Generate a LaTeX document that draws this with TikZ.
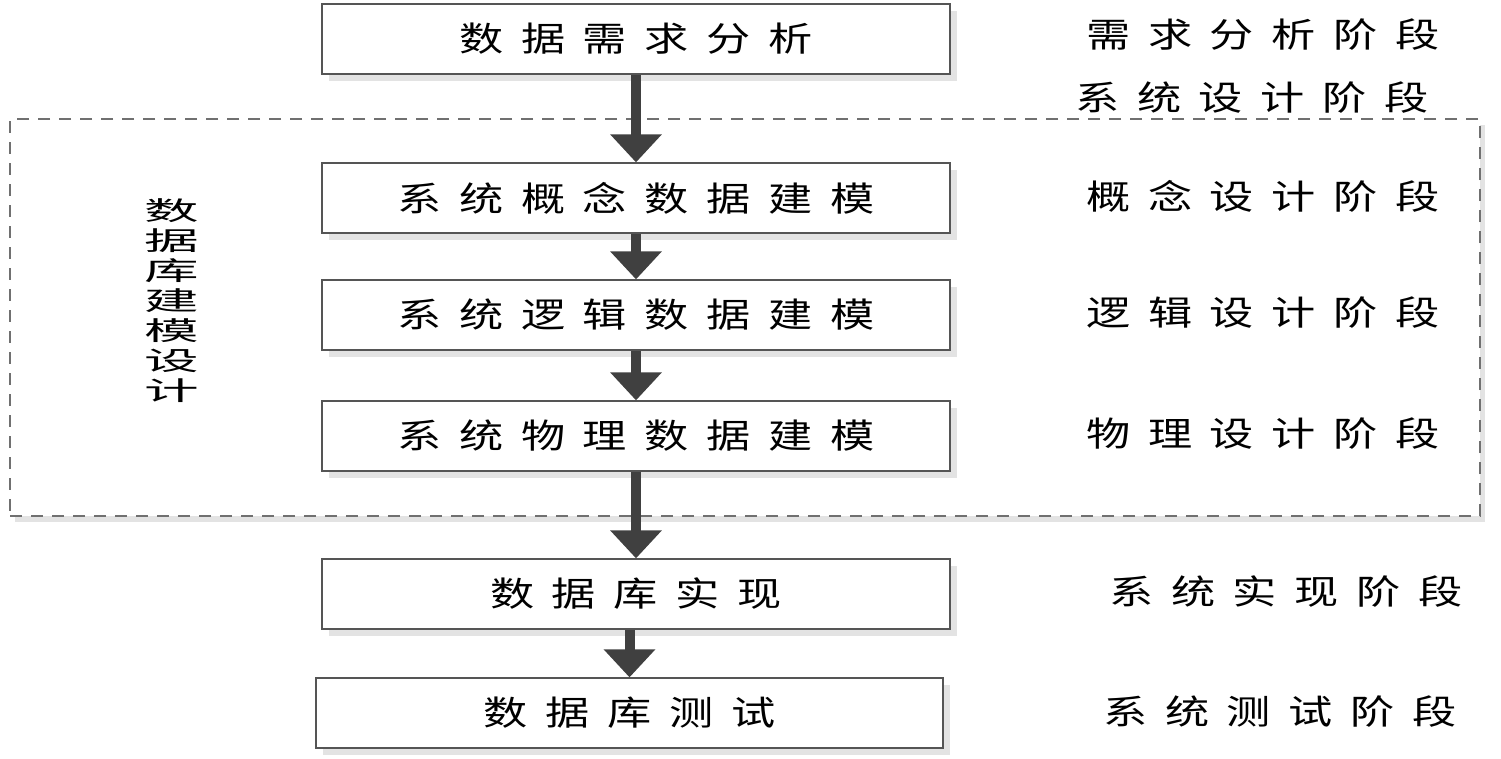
\documentclass[tikz,border=0pt]{standalone}
\usepackage{fontspec}
\usetikzlibrary{arrows.meta,shadows}
\newfontfamily\cjkmain[FakeStretch=1.3,LetterSpace=52]{Noto Sans CJK SC}
\newfontfamily\cjkside[FakeStretch=2.1]{Noto Sans CJK SC}
\definecolor{edgec}{HTML}{555555}
\definecolor{shadec}{HTML}{E3E3E3}
\definecolor{arrowc}{HTML}{404040}
\definecolor{dashc}{HTML}{707070}
\tikzset{
  stepbox/.style={draw=edgec, line width=1.3pt, fill=white, minimum width=628pt, minimum height=70pt, inner sep=0pt,
    font=\cjkmain\fontsize{34}{38}\selectfont,
    drop shadow={shadow xshift=7pt, shadow yshift=-7pt, fill=shadec, opacity=1}},
  phase/.style={font=\cjkmain\fontsize{34}{38}\selectfont, inner sep=0pt},
  flowarrow/.style={draw=arrowc, line width=10pt, -{Triangle[width=50pt,length=28pt,fill=arrowc]}},
  region/.style={draw=dashc, line width=1.3pt, dash pattern=on 12pt off 9pt, fill=white, inner sep=0pt,
    drop shadow={shadow xshift=5pt, shadow yshift=-6pt, fill=shadec, opacity=1}}
}
\begin{document}
\begin{tikzpicture}[x=1pt,y=-1pt]
\useasboundingbox (0,0) rectangle (1501,758);
\node[region, minimum width=1470pt, minimum height=397pt] (reg) at (745,317.5) {};
\node[stepbox] (b1) at (636,39) {数据需求分析};
\node[stepbox] (b2) at (636,198) {系统概念数据建模};
\node[stepbox] (b3) at (636,315) {系统逻辑数据建模};
\node[stepbox] (b4) at (636,436) {系统物理数据建模};
\node[stepbox] (b5) at (636,594) {数据库实现};
\node[stepbox, minimum width=627pt] (b6) at (629.5,713) {数据库测试};
\node[font=\cjkside\fontsize{26}{30}\selectfont, align=center, inner sep=0pt] (side) at (172,301) {数\\据\\库\\建\\模\\设\\计};
\node[phase] (p1) at (1263,35) {需求分析阶段};
\node[phase] (p2) at (1252,98) {系统设计阶段};
\node[phase] (p3) at (1263,196) {概念设计阶段};
\node[phase] (p4) at (1263,313) {逻辑设计阶段};
\node[phase] (p5) at (1263,434) {物理设计阶段};
\node[phase] (p6) at (1286,592) {系统实现阶段};
\node[phase] (p7) at (1280,712) {系统测试阶段};
\draw[flowarrow] (b1.south) -- (b2.north);
\draw[flowarrow] (b2.south) -- (b3.north);
\draw[flowarrow] (b3.south) -- (b4.north);
\draw[flowarrow] (b4.south) -- (b5.north);
\draw[flowarrow] (b6.north |- b5.south) -- (b6.north);
\end{tikzpicture}
\end{document}
